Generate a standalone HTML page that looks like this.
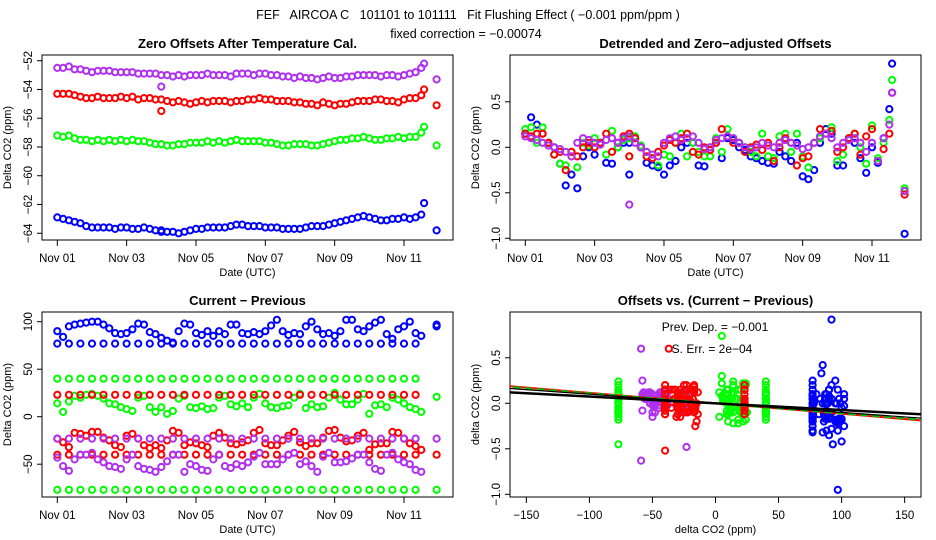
<!DOCTYPE html>
<html><head><meta charset="utf-8">
<style>
html,body{margin:0;padding:0;background:#fff;}
svg{display:block;font-family:"Liberation Sans",sans-serif;}
</style></head>
<body>
<svg id="fig" width="936" height="540" viewBox="0 0 936 540" xmlns="http://www.w3.org/2000/svg">
<rect width="936" height="540" fill="#fff"/>
<text x="468" y="19" font-size="12.5" text-anchor="middle" xml:space="preserve">FEF   AIRCOA C   101101 to 101111   Fit Flushing Effect ( −0.001 ppm/ppm )</text>
<text x="466" y="38" font-size="12.5" text-anchor="middle">fixed correction = −0.00074</text>
</svg>
<script>
// ---- time grid: 4-hour steps from Nov 01 (days)
const extraT = [3.0, 10.58, 10.94];
const dateTicks = ["Nov 01","Nov 03","Nov 05","Nov 07","Nov 09","Nov 11"];
const dateTickDays = [0,2,4,6,8,10];

// ---- Panel 1: zero offsets (ppm)
const purple1 = [-52.5,-52.5,-52.4,-52.6,-52.6,-52.7, -52.8,-52.7,-52.7,-52.7,-52.8,-52.8, -52.8,-52.8,-52.9,-52.9,-52.9,-52.9, -53.0,-53.0,-53.1,-53.0,-53.1,-53.0, -53.0,-53.0,-52.9,-53.0,-53.0,-53.0, -53.1,-52.9,-52.9,-52.9,-53.0,-52.9, -52.9,-53.0,-53.0,-53.1,-53.1,-53.2, -53.1,-53.2,-53.2,-53.3,-53.2,-53.1, -53.2,-53.2,-53.1,-53.1,-53.0,-53.0, -53.0,-53.0,-53.1,-53.0,-53.0,-53.1, -53.0,-52.9,-52.8,-52.5];
const red1 = [-54.3,-54.3,-54.3,-54.4,-54.5,-54.6, -54.6,-54.5,-54.6,-54.6,-54.6,-54.5, -54.6,-54.5,-54.7,-54.6,-54.6,-54.7, -54.7,-54.8,-54.9,-54.8,-54.9,-55.0, -54.9,-54.8,-54.9,-54.8,-54.8,-54.8, -54.9,-54.8,-54.8,-54.7,-54.7,-54.6, -54.7,-54.7,-54.8,-54.8,-54.8,-54.9, -54.9,-55.0,-55.0,-55.1,-54.9,-55.0, -55.1,-55.0,-55.0,-54.9,-54.8,-54.8, -54.8,-54.7,-54.7,-54.8,-54.8,-54.9, -54.7,-54.6,-54.6,-54.4];
const green1 = [-57.2,-57.3,-57.2,-57.4,-57.5,-57.5, -57.6,-57.5,-57.6,-57.5,-57.6,-57.5, -57.6,-57.5,-57.6,-57.6,-57.7,-57.8, -57.8,-57.9,-57.9,-57.8,-57.8,-57.7, -57.7,-57.7,-57.6,-57.7,-57.6,-57.7, -57.6,-57.5,-57.6,-57.6,-57.6,-57.6, -57.7,-57.7,-57.8,-57.9,-57.9,-57.8, -57.8,-57.8,-57.9,-57.9,-57.8,-57.7, -57.6,-57.5,-57.5,-57.4,-57.4,-57.3, -57.4,-57.5,-57.5,-57.4,-57.4,-57.3, -57.4,-57.3,-57.3,-57.0];
const blue1 = [-62.9,-63.0,-63.1,-63.2,-63.3,-63.5, -63.6,-63.6,-63.6,-63.6,-63.7,-63.6, -63.6,-63.7,-63.7,-63.6,-63.7,-63.8, -63.8,-63.9,-63.9,-64.0,-63.9,-63.8, -63.7,-63.7,-63.6,-63.6,-63.6,-63.6, -63.5,-63.4,-63.4,-63.5,-63.5,-63.5, -63.6,-63.6,-63.6,-63.7,-63.7,-63.7, -63.7,-63.6,-63.5,-63.5,-63.5,-63.4, -63.3,-63.2,-63.1,-63.0,-62.9,-62.8, -62.9,-63.0,-63.1,-63.1,-63.0,-63.0, -62.9,-63.0,-62.9,-62.7];
const purple1X = [-53.8,-52.2,-53.3];
const red1X = [-55.5,-54.0,-55.1];
const green1X = [-57.8,-56.6,-57.9];
const blue1X = [-63.9,-61.9,-63.8];
const p1Ticks = [-52,-54,-56,-58,-60,-62,-64];

// ---- Panel 2: detrended offsets (ppm)
const blue2 = [0.15,0.33,0.25,0.15,0.05,0.0, -0.18,-0.42,-0.3,-0.45,-0.1,0.0, -0.08,0.05,-0.17,-0.18,0.0,0.05, 0.05,0.1,0.0,-0.17,-0.2,-0.22, -0.3,-0.2,-0.15,0.0,0.05,0.05, -0.2,-0.21,0.0,0.05,-0.12,0.1, 0.08,0.0,-0.03,-0.1,-0.12,-0.15, -0.17,-0.18,-0.05,-0.1,-0.15,0.05, -0.32,-0.35,-0.25,0.05,0.2,0.15, -0.2,-0.2,0.1,0.05,-0.12,-0.28, 0.0,-0.17,0.1,0.42];
const green2 = [0.2,0.22,0.05,0.22,0.05,-0.08, -0.18,-0.2,-0.05,-0.22,0.05,0.02, 0.1,0.05,-0.08,0.18,0.0,0.08, 0.1,0.12,0.02,-0.05,-0.12,-0.2, -0.08,-0.1,0.05,0.15,-0.1,0.05, -0.05,-0.1,-0.1,0.1,-0.05,0.2, 0.1,0.05,0.0,-0.05,-0.1,0.15, -0.1,-0.12,0.12,0.15,-0.05,0.15, -0.1,-0.22,0.05,0.1,0.15,0.22, -0.15,-0.08,0.1,0.15,0.0,-0.18, 0.24,-0.12,0.05,0.3];
const red2 = [0.15,0.12,0.15,0.15,0.05,-0.08, -0.05,-0.25,-0.05,-0.1,0.0,0.05, 0.0,0.05,0.15,-0.05,0.05,0.12, 0.15,0.1,0.0,-0.1,-0.12,-0.05, 0.02,0.08,0.05,0.1,0.15,-0.05, -0.08,0.0,-0.03,0.05,0.2,0.12, 0.05,0.05,-0.05,0.0,0.03,-0.03, 0.05,-0.15,0.0,0.1,0.05,-0.2, -0.12,-0.1,0.05,0.2,0.15,0.18, -0.05,0.0,0.1,0.15,-0.08,0.12, 0.2,-0.15,-0.02,0.15];
const purple2 = [0.12,0.1,0.08,0.05,0.02,0.0, -0.02,-0.05,-0.1,0.05,0.1,0.08, 0.05,0.03,0.08,0.1,0.05,0.1, 0.12,0.05,0.0,-0.05,-0.08,-0.1, 0.05,0.1,0.12,0.08,0.1,0.12, 0.05,-0.02,0.0,0.08,0.1,0.12, 0.1,0.05,0.0,-0.02,0.0,0.05, 0.02,0.0,0.05,0.08,0.05,0.02, -0.02,0.0,0.05,0.12,0.15,0.1, 0.0,0.05,0.08,0.1,0.05,-0.05, 0.05,-0.15,0.1,0.25];
const blue2X = [-0.3,0.92,-0.95];
const green2X = [-0.1,0.74,-0.45];
const red2X = [-0.1,0.6,-0.52];
const purple2X = [-0.63,0.6,-0.48];
const p2Ticks = [0.5,0.0,-0.5,-1.0];
const p2TickLabels = ["0.5","0.0","−0.5","−1.0"];

// ---- Panel 3: current - previous (ppm)
const blue3 = [90,84,95,97,98,99, 100,100,97,93,88,87, 88,92,98,97,89,87, 83,80,78,90,98,97, 88,86,90,85,90,87, 97,97,88,87,89,87, 90,96,102,90,86,88, 87,95,100,92,87,88, 85,90,102,102,92,90, 95,99,102,87,82,92, 95,100,88,85];
const green3 = [14,5,16,22,20,23, 24,22,19,14,13,10, 8,6,20,22,10,5, 10,3,6,19,22,10, 9,11,8,9,20,22, 13,11,14,10,20,24, 14,10,9,11,12,20, 24,9,13,10,11,20, 25,18,13,13,18,24, 3,12,13,10,20,18, 14,10,8,5];
const red3 = [-23,-27,-32,-17,-18,-20, -16,-16,-22,-25,-30,-32, -20,-18,-23,-30,-33,-30, -33,-25,-15,-17,-30,-27, -28,-30,-32,-20,-17,-22, -28,-29,-27,-25,-17,-14, -28,-30,-30,-25,-20,-16, -27,-31,-28,-28,-22,-15, -14,-22,-26,-25,-20,-17, -35,-29,-28,-28,-16,-17, -23,-28,-31,-35];
const purple3 = [-43,-52,-57,-45,-40,-40, -38,-45,-48,-52,-53,-55, -45,-40,-52,-55,-56,-58, -53,-47,-40,-40,-58,-50, -52,-56,-57,-45,-40,-52, -54,-50,-52,-48,-42,-38, -50,-50,-50,-45,-40,-38, -50,-47,-52,-58,-42,-38, -48,-48,-47,-44,-40,-40, -48,-55,-57,-40,-38,-45, -48,-50,-56,-58];
const blueRef = [77];
const greenRef = [40,-77];
const redRef = [23,-40];
const purpleRef = [-23];
const blue3X = [97,95];
const green3X = [21,-77];
const red3X = [-40];
const purple3X = [-23];
const p3Ticks = [100,50,0,-50];
const p3TickLabels = ["100","50","0","−50"];

// ---- Panel 4 fit lines (slope ppm/ppm)
const fitSlopes = [-0.00115,-0.0011,-0.001,-0.00074];
const fitColors = ["#ff0000","#00c000","#000000","#000000"];
const p4Ticks = [-150,-100,-50,0,50,100,150];
const p4TickLabels = ["−150","−100","−50","0","50","100","150"];

const COL = {blue:"#0000ff",green:"#00ff00",red:"#ff0000",purple:"#b030f0"};
const NS = "http://www.w3.org/2000/svg";
const svg = document.getElementById('fig');
function mk(tag, attrs, parent){const e=document.createElementNS(NS,tag);for(const k in attrs)e.setAttribute(k,attrs[k]);(parent||svg).appendChild(e);return e;}
function txt(s, attrs, parent){const e=mk('text',attrs,parent);e.textContent=s;return e;}

function panel(name, box, title){
  const g = mk('g',{});
  
  
  const r = mk('rect',{x:box.x0,y:box.y0,width:box.x1-box.x0,height:box.y1-box.y0,fill:'none',stroke:'#000','stroke-width':1},g);
  
  
  const t = txt(title,{x:(box.x0+box.x1)/2,y:box.y0-7,'font-size':13,'font-weight':'bold','text-anchor':'middle'},g);
  
  
  return g;
}
function yAxis(g, name, box, sy, ticks, labels, title){
  const ax = mk('g',{},g);
  
  
  ticks.forEach((v,i)=>{
    const y=sy(v);
    mk('line',{x1:box.x0,x2:box.x0-5,y1:y,y2:y,stroke:'#000'},ax);
    const t=txt(labels[i],{x:0,y:0,'font-size':11.5,'text-anchor':'middle',transform:`translate(${box.x0-10},${y}) rotate(-90)`},ax);
    
    
  });
  const yt=txt(title,{x:0,y:0,'font-size':11,'text-anchor':'middle',transform:`translate(${box.x0-31},${(box.y0+box.y1)/2}) rotate(-90)`},ax);
  
  
}
function xAxis(g, name, box, sx, ticks, labels, title){
  const ax = mk('g',{},g);
  
  
  ticks.forEach((v,i)=>{
    const x=sx(v);
    mk('line',{x1:x,x2:x,y1:box.y1,y2:box.y1+6,stroke:'#000'},ax);
    const t=txt(labels[i],{x:x,y:box.y1+22,'font-size':11.5,'text-anchor':'middle'},ax);
    
    
  });
  const xt=txt(title,{x:(box.x0+box.x1)/2,y:box.y1+36,'font-size':11,'text-anchor':'middle'},ax);
  
  
}
function pt(g, x, y, color, r){
  const c = mk('circle',{cx:x.toFixed(1),cy:y.toFixed(1),r:r||3.1,fill:'none',stroke:color,'stroke-width':2},g);
  
  
}
const tOf = i => i/6;
function series(g, name, sx, sy, vals, xvals, color){
  const s = mk('g',{},g);
  
  
  vals.forEach((v,i)=>pt(s, sx(tOf(i)), sy(v), color));
  if(xvals) xvals.forEach((v,i)=>pt(s, sx(extraT[i]), sy(v), color));
  return s;
}

// Panel 1
(function(){
  const box={x0:42,x1:453,y0:55,y1:240};
  const sx=d=>57.3+d*34.67, sy=v=>60.7+(-52-v)*14.38;
  const g=panel('zero-offsets-panel',box,'Zero Offsets After Temperature Cal.');
  yAxis(g,'zero-offsets',box,sy,p1Ticks,p1Ticks.map(v=>String(v).replace('-','−')),'Delta CO2 (ppm)');
  xAxis(g,'zero-offsets',box,sx,dateTickDays,dateTicks,'Date (UTC)');
  series(g,'series-blue',sx,sy,blue1,blue1X,COL.blue);
  series(g,'series-green',sx,sy,green1,green1X,COL.green);
  series(g,'series-red',sx,sy,red1,red1X,COL.red);
  series(g,'series-purple',sx,sy,purple1,purple1X,COL.purple);
})();

// Panel 2
(function(){
  const box={x0:510,x1:921,y0:55,y1:240};
  const sx=d=>525.3+d*34.67, sy=v=>147.3-v*91;
  const g=panel('detrended-panel',box,'Detrended and Zero−adjusted Offsets');
  yAxis(g,'detrended',box,sy,p2Ticks,p2TickLabels,'Delta CO2 (ppm)');
  xAxis(g,'detrended',box,sx,dateTickDays,dateTicks,'Date (UTC)');
  series(g,'series-blue',sx,sy,blue2,blue2X,COL.blue);
  series(g,'series-green',sx,sy,green2,green2X,COL.green);
  series(g,'series-red',sx,sy,red2,red2X,COL.red);
  series(g,'series-purple',sx,sy,purple2,purple2X,COL.purple);
})();

// Panel 3
(function(){
  const box={x0:42,x1:453,y0:312,y1:497};
  const sx=d=>57.3+d*34.67, sy=v=>416.7-v*0.95;
  const g=panel('current-previous-panel',box,'Current − Previous');
  yAxis(g,'current-previous',box,sy,p3Ticks,p3TickLabels,'Delta CO2 (ppm)');
  xAxis(g,'current-previous',box,sx,dateTickDays,dateTicks,'Date (UTC)');
  const sets=[['blue',blue3,blueRef,blue3X],['green',green3,greenRef,green3X],['red',red3,redRef,red3X],['purple',purple3,purpleRef,purple3X]];
  sets.forEach(([c,vals,refs,xs])=>{
    const s=series(g,'series-'+c,sx,sy,vals,null,COL[c]);
    refs.forEach(lv=>{ for(let i=0;i<vals.length;i+=2) pt(s, sx(tOf(i)), sy(lv), COL[c]); });
    xs.forEach(v=>pt(s, sx(extraT[2]), sy(v), COL[c]));
  });
})();

// Panel 4
(function(){
  const box={x0:510,x1:921,y0:312,y1:497};
  const sx=v=>715.5+v*1.261, sy=v=>403.3-v*91;
  const g=panel('offsets-vs-diff-panel',box,'Offsets vs. (Current − Previous)');
  yAxis(g,'offsets-vs-diff',box,sy,p2Ticks,p2TickLabels,'delta CO2 (ppm)');
  xAxis(g,'offsets-vs-diff',box,sx,p4Ticks,p4TickLabels,'delta CO2 (ppm)');
  const clip=mk('clipPath',{id:'c4'},g); mk('rect',{x:box.x0,y:box.y0,width:box.x1-box.x0,height:box.y1-box.y0},clip);
  const inner=mk('g',{'clip-path':'url(#c4)'},g);
  const sets=[['green',green3,greenRef,green2],['purple',purple3,purpleRef,purple2],['red',red3,redRef,red2],['blue',blue3,blueRef,blue2]];
  sets.forEach(([c,xs,refs,ys])=>{
    const s=mk('g',{},inner);
    
    
    xs.forEach((x,i)=>pt(s,sx(x),sy(ys[i]),COL[c]));
    refs.forEach(lv=>{for(let i=0;i<ys.length;i+=2) pt(s,sx(lv),sy(ys[i]),COL[c]);});
  });
  [['purple',-59,purple2X[1]],['red',-37,red2X[1]],['green',5,green2X[1]],['blue',92,blue2X[1]],['blue',97,blue2X[2]],['green',-77,green2X[2]],['red',-40,red2X[2]],['purple',-23,purple2X[2]],['purple',-59,purple2X[0]]]
    .forEach(([c,x,y])=>pt(inner,sx(x),sy(y),COL[c]));
  fitSlopes.forEach((m,i)=>{
    const l=mk('line',{x1:sx(-170),y1:sy(m*-170),x2:sx(170),y2:sy(m*170),stroke:fitColors[i],'stroke-width':i===3?2.5:(i===2?1.2:2),'stroke-dasharray':i===1?'8,4':'none'},inner);
    
    
  });
  const a=txt('Prev. Dep. =  −0.001',{x:715,y:331,'font-size':12,'text-anchor':'middle','xml:space':'preserve'},g);
  
  
  const b=txt('S. Err. =  2e−04',{x:712,y:353,'font-size':12,'text-anchor':'middle','xml:space':'preserve'},g);
  
  
})();
</script>
</body></html>
